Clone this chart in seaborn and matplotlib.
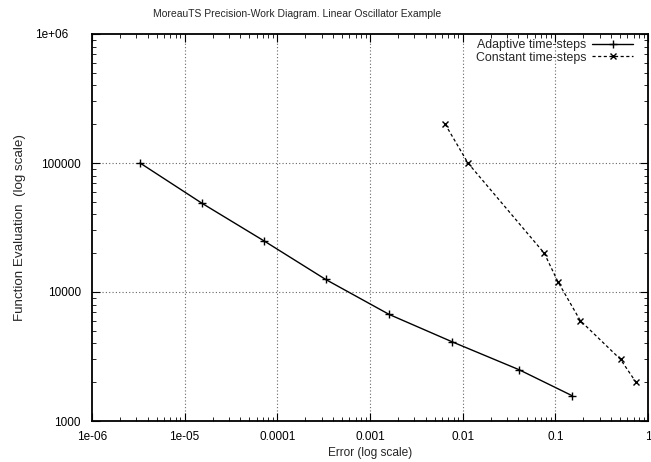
import numpy as np
import pandas as pd
import matplotlib
matplotlib.use("Agg")
import matplotlib.pyplot as plt
import seaborn as sns

# 数据
adapt_err = [3.3e-6, 1.54e-5, 7.25e-5, 3.33e-4, 1.61e-3, 7.7e-3, 0.0405, 0.152]
adapt_eval = [100000, 48700, 24800, 12500, 6700, 4110, 2500, 1570]
const_err = [6.47e-3, 0.0114, 0.0759, 0.1067, 0.186, 0.506, 0.741]
const_eval = [200000, 100000, 20000, 12000, 6000, 3000, 2000]
xticks = [1e-6, 1e-5, 1e-4, 1e-3, 1e-2, 1e-1, 1]
xlabels = ['1e-06', '1e-05', '0.0001', '0.001', '0.01', '0.1', '1']
yticks = [1000, 10000, 100000, 1000000]
ylabels = ['1000', '10000', '100000', '1e+06']

dfa = pd.DataFrame({'err': adapt_err, 'fe': adapt_eval})
dfc = pd.DataFrame({'err': const_err, 'fe': const_eval})

sns.set_style('ticks')
plt.rcParams['font.family'] = ['Liberation Sans', 'DejaVu Sans']
plt.rcParams['font.size'] = 8.5

fig = plt.figure(figsize=(6.51, 4.62), dpi=100)
ax = fig.add_axes([92 / 651, 1 - 421 / 462, 556 / 651, 387 / 462])

sns.lineplot(data=dfa, x='err', y='fe', ax=ax, color='black', lw=1,
             marker='+', markersize=6, mew=1, mec='black',
             label='Adaptive time-steps', sort=False)
sns.lineplot(data=dfc, x='err', y='fe', ax=ax, color='black', lw=0.9,
             linestyle=(0, (2.5, 2)), marker='x', markersize=5, mew=1,
             mec='black', label='Constant time-steps', sort=False)

ax.set_xscale('log')
ax.set_yscale('log')
ax.set_xlim(1e-6, 1)
ax.set_ylim(1000, 1e6)
ax.set_xticks(xticks, xlabels)
ax.set_yticks(yticks, ylabels)
ax.tick_params(which='both', direction='in', top=True, right=True,
               color='black', labelcolor='black', labelsize=8.5)
ax.tick_params(which='major', length=6, width=0.8)
ax.tick_params(axis='x', which='major', pad=7.5)
ax.tick_params(axis='y', which='major', pad=8)
ax.tick_params(which='minor', length=3, width=0.6)
# 1e+06 标签在原图里偏左
ax.get_yticklabels()[-1].set_x(-0.023)
for s in ax.spines.values():
    s.set_linewidth(1.3)
    s.set_color('black')

# 网格（只画内部的主刻度）
for v in xticks[1:-1]:
    ax.axvline(v, color='#666666', lw=0.8, ls=(0, (1, 2)), zorder=0)
for v in yticks[1:-1]:
    ax.axhline(v, color='#666666', lw=0.8, ls=(0, (1, 2)), zorder=0)

ax.set_xlabel('Error (log scale)', fontsize=8.6)
ax.xaxis.set_label_coords(0.5, -0.066)
ax.set_ylabel('Function Evaluation  (log scale)', fontsize=9.6)
ax.yaxis.set_label_coords(-0.118, 0.5)
fig.text(297 / 651, 1 - 14 / 462,
         'MoreauTS Precision-Work Diagram. Linear Oscillator Example',
         fontsize=7.5, ha='center', va='center')

ax.legend(loc='upper right', bbox_to_anchor=(0.982, 1.0), borderaxespad=0,
          frameon=False, markerfirst=False, handlelength=3.3,
          handletextpad=0.5, labelspacing=0.05, fontsize=8.9)

fig.savefig('out.png', dpi=100)
